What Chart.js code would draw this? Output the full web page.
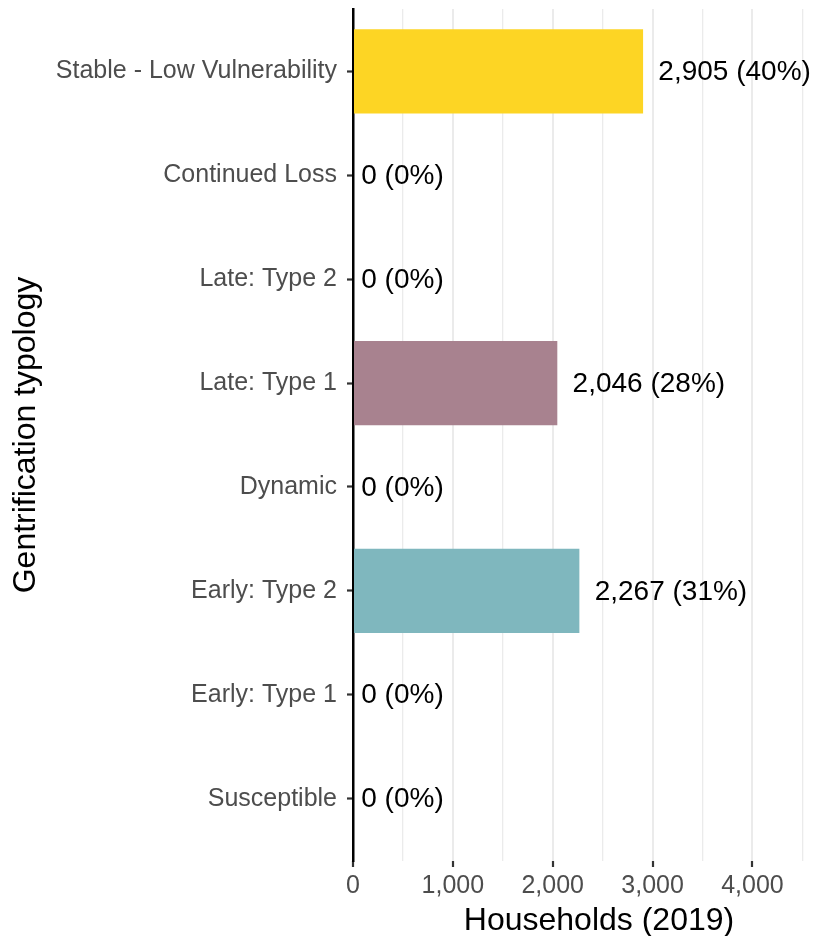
<!DOCTYPE html>
<html lang="en">
<head>
  <meta charset="UTF-8">
  <title>Gentrification typology</title>
  <script src="https://cdn.jsdelivr.net/npm/chart.js"></script>
  <style>
    html, body { margin: 0; padding: 0; overflow: hidden; background: #fff; }
    canvas { display: block; }
  </style>
</head>
<body>
  <canvas id="chart" width="845" height="936"></canvas>

  <script>
    // data, top to bottom
    const categories = ['Stable - Low Vulnerability', 'Continued Loss', 'Late: Type 2', 'Late: Type 1',
                        'Dynamic', 'Early: Type 2', 'Early: Type 1', 'Susceptible'];
    const households = [2905, 0, 0, 2046, 0, 2267, 0, 0];
    const barColors = ['#FDD524', '#8C6B7E', '#C9B3BE', '#A8828F', '#B9D8DC', '#7FB7BE', '#4F9AA3', '#2E7A85'];
    const xTicks = [0, 1000, 2000, 3000, 4000];       // labelled
    const xGrid = [0, 500, 1000, 1500, 2000, 2500, 3000, 3500, 4000, 4500];

    const total = households.reduce((a, b) => a + b, 0);
    const fmt = v => v.toLocaleString('en-US');
    const FONT = '"Liberation Sans", Arial, sans-serif';

    // value labels at the end of each bar (ggplot hjust = -0.1)
    const barLabels = {
      id: 'barLabels',
      afterDatasetsDraw(chart) {
        const { ctx, scales: { x, y } } = chart;
        ctx.save();
        ctx.font = '28px ' + FONT;
        ctx.fillStyle = '#000';
        ctx.textBaseline = 'middle';
        ctx.textAlign = 'left';
        households.forEach((v, i) => {
          const txt = `${fmt(v)} (${Math.round(v / total * 100)}%)`;
          const w = ctx.measureText(txt).width;
          ctx.fillText(txt, x.getPixelForValue(v) + 0.1 * w, y.getPixelForValue(i) + 1);
        });
        ctx.restore();
      }
    };

    const isMajor = c => !!c.tick && xTicks.includes(c.tick.value);

    new Chart(document.getElementById('chart'), {
      type: 'bar',
      data: {
        datasets: [{
          data: households.map((v, i) => ({ x: v, y: i })),
          backgroundColor: barColors,
          borderWidth: 0,
          barPercentage: 0.9,
          categoryPercentage: 0.9
        }]
      },
      options: {
        indexAxis: 'y',
        responsive: false,
        animation: false,
        layout: { padding: { top: 9, right: 0, bottom: 0, left: 0 } },
        plugins: { legend: { display: false }, tooltip: { enabled: false } },
        scales: {
          x: {
            type: 'linear',
            min: 0,
            max: 4927,
            afterBuildTicks: s => { s.ticks = xGrid.map(v => ({ value: v })); },
            afterFit: s => { s.height = 75; s.paddingLeft = 0; s.paddingRight = 0; },
            ticks: {
              autoSkip: false,
              maxRotation: 0,
              padding: 4,
              color: '#4D4D4D',
              font: { family: FONT, size: 25 },
              callback: v => xTicks.includes(v) ? fmt(v) : ''
            },
            grid: {
              color: '#EBEBEB',
              lineWidth: c => isMajor(c) ? 2 : 1.3,
              tickLength: 6,
              tickColor: c => isMajor(c) ? '#333' : 'rgba(0,0,0,0)',
              tickWidth: 2.2
            },
            border: { display: false },
            title: {
              display: true,
              text: 'Households (2019)',
              color: '#000',
              font: { family: FONT, size: 32, lineHeight: 1 },
              padding: { top: 0, bottom: -1 }
            }
          },
          y: {
            type: 'linear',
            reverse: true,
            offset: false,
            min: -0.6,
            max: 7.6,
            afterBuildTicks: s => { s.ticks = categories.map((_, i) => ({ value: i })); },
            afterFit: s => { s.width = 353; s.paddingTop = 0; s.paddingBottom = 0; },
            ticks: {
              autoSkip: false,
              padding: 10,
              color: '#4D4D4D',
              font: { family: FONT, size: 25 },
              callback: v => categories[v]
            },
            grid: {
              offset: false,
              drawOnChartArea: false,
              tickLength: 6,
              tickColor: '#333',
              tickWidth: 2.2
            },
            border: { display: true, color: '#000', width: 2.5 },
            title: {
              display: true,
              text: 'Gentrification typology',
              color: '#000',
              font: { family: FONT, size: 32, lineHeight: 1.2 },
              padding: { top: 7, bottom: 0 }
            }
          }
        }
      },
      plugins: [barLabels]
    });
  </script>
</body>
</html>
